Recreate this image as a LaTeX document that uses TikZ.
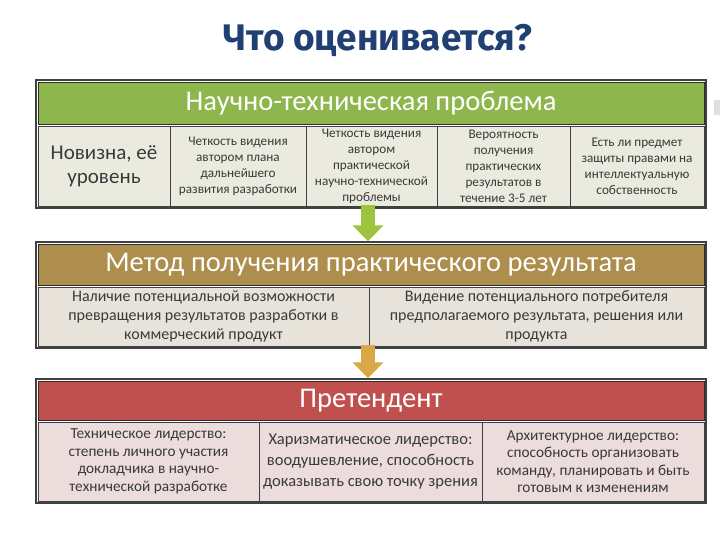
\documentclass[tikz,border=0pt]{standalone}
\usepackage{fontspec}
\setmainfont{Carlito}
\newfontfamily\titlefont{Fira Sans}
\usetikzlibrary{arrows.meta}
\definecolor{titleblue}{HTML}{203F72}
\definecolor{hgreen}{HTML}{8DB64C}
\definecolor{hgold}{HTML}{AE8E4C}
\definecolor{hred}{HTML}{C0504D}
\definecolor{cgreen}{HTML}{EAEADF}
\definecolor{cgold}{HTML}{E7E3DB}
\definecolor{cred}{HTML}{ECDCDB}
\definecolor{frame}{HTML}{404040}
\definecolor{ctext}{HTML}{3A3A3A}
\definecolor{agreen}{HTML}{9CC43E}
\definecolor{agold}{HTML}{D9A845}
\tikzset{
  blockframe/.style={draw=frame, line width=1.4pt, inner sep=0pt},
  header/.style={inner sep=0pt, text=white, font=\fontsize{28.5}{31}\selectfont, draw=frame!70!black, line width=0.6pt},
  cellbox/.style={inner sep=2pt, draw=frame, line width=0.8pt, text=ctext, align=center},
  bigarrow/.style={line width=14pt, -{Triangle[width=30pt,length=16pt]}, shorten <=-4pt}
}
\begin{document}
\begin{tikzpicture}[x=1pt,y=-1pt]
\useasboundingbox (0,0) rectangle (720,540);
% title
\node[text=titleblue, font=\titlefont\bfseries\fontsize{37}{40}\selectfont] (title) at (378,40) {Что оценивается?};
% small fragment on the right edge
\fill[gray!25] (714,100) rectangle (720,115);

% ---- block 1
\node[blockframe, minimum width=670, minimum height=128] (b1) at (371,144) {};
\node[header, fill=hgreen, minimum width=666, minimum height=42] (h1) at (371,103) {Научно-техническая проблема};
\begin{scope}[every node/.append style={cellbox, fill=cgreen, minimum height=80, font=\fontsize{13.2}{16}\selectfont}]
\node[minimum width=132, font=\fontsize{21}{24}\selectfont] (c11) at (104,166) {Новизна, её\\уровень};
\node[minimum width=136] (c12) at (238,166) {Четкость видения\\автором плана\\дальнейшего\\развития разработки};
\node[minimum width=131] (c13) at (371.5,166) {Четкость видения\\автором\\практической\\научно-технической\\проблемы};
\node[minimum width=133] (c14) at (503.5,166) {Вероятность\\получения\\практических\\результатов в\\течение 3-5 лет};
\node[minimum width=134] (c15) at (637,166) {Есть ли предмет\\защиты правами на\\интеллектуальную\\собственность};
\end{scope}

% ---- block 2
\node[blockframe, minimum width=670, minimum height=106] (b2) at (371,295) {};
\node[header, fill=hgold, minimum width=666, minimum height=41] (h2) at (371,264.5) {Метод получения практического результата};
\begin{scope}[every node/.append style={cellbox, fill=cgold, minimum height=59, font=\fontsize{16}{19}\selectfont}]
\node[minimum width=331] (c21) at (203.5,316.5) {Наличие потенциальной возможности\\превращения результатов разработки в\\коммерческий продукт};
\node[minimum width=335] (c22) at (536.5,316.5) {Видение потенциального потребителя\\предполагаемого результата, решения или\\продукта};
\end{scope}

% ---- block 3
\node[blockframe, minimum width=670, minimum height=124] (b3) at (371,441) {};
\node[header, fill=hred, minimum width=666, minimum height=39] (h3) at (371,400.5) {Претендент};
\begin{scope}[every node/.append style={cellbox, fill=cred, minimum height=79, font=\fontsize{15.3}{17.5}\selectfont}]
\node[minimum width=221] (c31) at (148.5,461.5) {Техническое лидерство:\\степень личного участия\\докладчика в научно-\\технической разработке};
\node[minimum width=223, font=\fontsize{16.5}{21}\selectfont] (c32) at (370.5,461.5) {Харизматическое лидерство:\\воодушевление, способность\\доказывать свою точку зрения};
\node[minimum width=222] (c33) at (593,461.5) {Архитектурное лидерство:\\способность организовать\\команду, планировать и быть\\готовым к изменениям};
\end{scope}

% ---- arrows
\draw[bigarrow, agreen] (b1.south -| 368,0) -- (b2.north -| 368,0);
\draw[bigarrow, agold] (b2.south -| 368,0) -- (b3.north -| 368,0);
\end{tikzpicture}
\end{document}
